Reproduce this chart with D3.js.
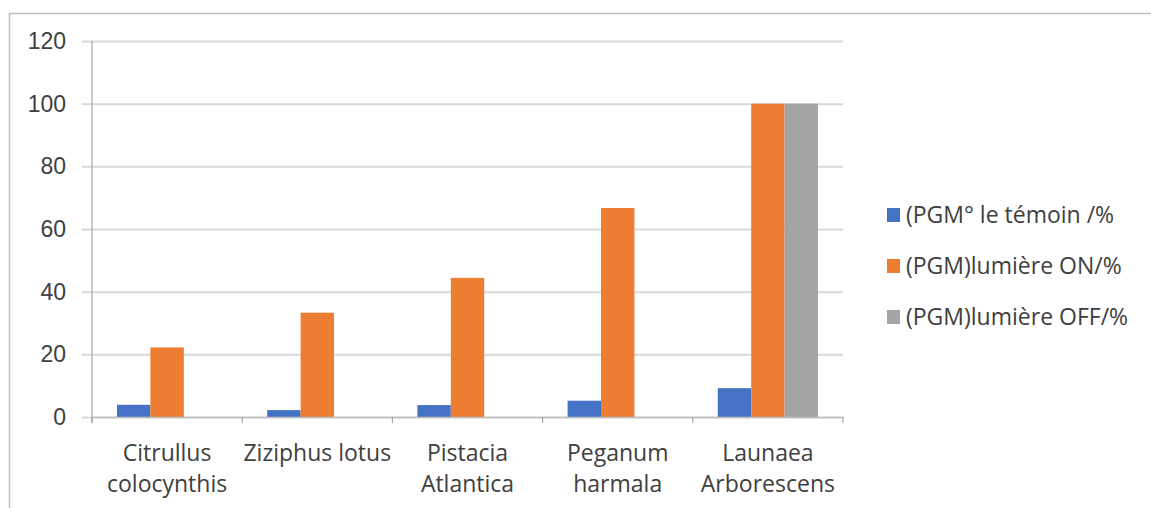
<!DOCTYPE html>
<html>
<head>
<meta charset="utf-8">
<script src="https://cdn.jsdelivr.net/npm/d3@7"></script>
<style>
  body { margin: 0; background: #fff; }
  svg { display: block; font-family: "Open Sans", Lato, sans-serif; }
</style>
</head>
<body>
<div id="chart"></div>
<script>
// plant species (two-line labels)
const categories = ["Citrullus colocynthis", "Ziziphus lotus", "Pistacia Atlantica", "Peganum harmala", "Launaea Arborescens"];
const labelLines = [["Citrullus", "colocynthis"], ["Ziziphus lotus"], ["Pistacia", "Atlantica"], ["Peganum", "harmala"], ["Launaea", "Arborescens"]];

const seriesNames = ["(PGM° le témoin /%", "(PGM)lumière ON/%", "(PGM)lumière OFF/%"];
const temoin = [3.9, 2.2, 3.8, 5.2, 9.2];
const lumiereOn = [22.2, 33.3, 44.4, 66.7, 100];
const lumiereOff = [0, 0, 0, 0, 100];
const yTicks = [0, 20, 40, 60, 80, 100, 120];

const colors = ["#4472c4", "#ed7d31", "#a5a5a5"];

const W = 1151, H = 508;
const plotLeft = 92, plotRight = 843, plotTop = 41, plotBottom = 417;
const fontPx = '23px';

const svg = d3.select('#chart').append('svg')
  .attr('width', W).attr('height', H);

// chart area frame (only top and left edges visible)
svg.append('path')
  .attr('d', 'M9.5,' + H + 'V13.5H' + W)
  .attr('fill', 'none').attr('stroke', '#bfbfbf').attr('stroke-width', 1.5);

const x = d3.scaleBand().domain(categories).range([plotLeft, plotRight]).padding(0);
const xs = d3.scaleBand().domain(d3.range(3)).range([25, x.bandwidth() - 25]).padding(0);
const y = d3.scaleLinear().domain([0, 120]).range([plotBottom, plotTop]);

// gridlines + y labels
const yAxis = svg.append('g')
  .attr('transform', 'translate(' + plotRight + ',0)')
  .call(d3.axisLeft(y).tickValues(yTicks).tickSize(plotRight - plotLeft + 10).tickPadding(16));
yAxis.select('.domain').remove();
yAxis.selectAll('.tick line').attr('stroke', '#d9d9d9').attr('stroke-width', 2);
yAxis.selectAll('.tick text').attr('fill', '#404040').style('font-size', fontPx);

// bars
const series = [temoin, lumiereOn, lumiereOff];
series.forEach(function (vals, si) {
  svg.append('g').selectAll('rect')
    .data(vals)
    .enter().append('rect')
    .attr('x', (d, i) => x(categories[i]) + xs(si))
    .attr('width', xs.bandwidth())
    .attr('y', d => y(d))
    .attr('height', d => y(0) - y(d))
    .attr('fill', colors[si]);
});

// x axis
const xAxis = svg.append('g')
  .attr('transform', 'translate(0,' + plotBottom + ')')
  .call(d3.axisBottom(x).tickSize(0).tickFormat(''));
xAxis.select('.domain').attr('stroke', '#bfbfbf').attr('stroke-width', 1.5);
const bounds = categories.map(c => x(c)).concat([plotRight]);
xAxis.selectAll('.bound').data(bounds).enter().append('line')
  .attr('class', 'bound')
  .attr('x1', d => d).attr('x2', d => d)
  .attr('y1', 0).attr('y2', 6)
  .attr('stroke', '#a6a6a6').attr('stroke-width', 1.2);

// y axis line
svg.append('line')
  .attr('x1', plotLeft).attr('x2', plotLeft)
  .attr('y1', plotTop).attr('y2', plotBottom + 6)
  .attr('stroke', '#a6a6a6').attr('stroke-width', 1.2);

// category labels
const lab = svg.append('g').selectAll('text')
  .data(categories)
  .enter().append('text')
  .attr('x', d => x(d) + x.bandwidth() / 2)
  .attr('y', 461)
  .attr('text-anchor', 'middle')
  .attr('fill', '#404040')
  .style('font-size', fontPx);
lab.each(function (d, i) {
  d3.select(this).selectAll('tspan').data(labelLines[i]).enter().append('tspan')
    .attr('x', x(d) + x.bandwidth() / 2)
    .attr('dy', (t, j) => j === 0 ? 0 : 31)
    .text(t => t);
});

// legend
const leg = svg.append('g').selectAll('g')
  .data(seriesNames)
  .enter().append('g')
  .attr('transform', (d, i) => 'translate(887,' + (215 + i * 51) + ')');
leg.append('rect')
  .attr('x', 0).attr('y', -7).attr('width', 13).attr('height', 14)
  .attr('fill', (d, i) => colors[i]);
leg.append('text')
  .attr('x', 19).attr('y', 0).attr('dy', '0.35em')
  .attr('fill', '#404040')
  .style('font-size', fontPx)
  .text(d => d);
</script>
</body>
</html>
